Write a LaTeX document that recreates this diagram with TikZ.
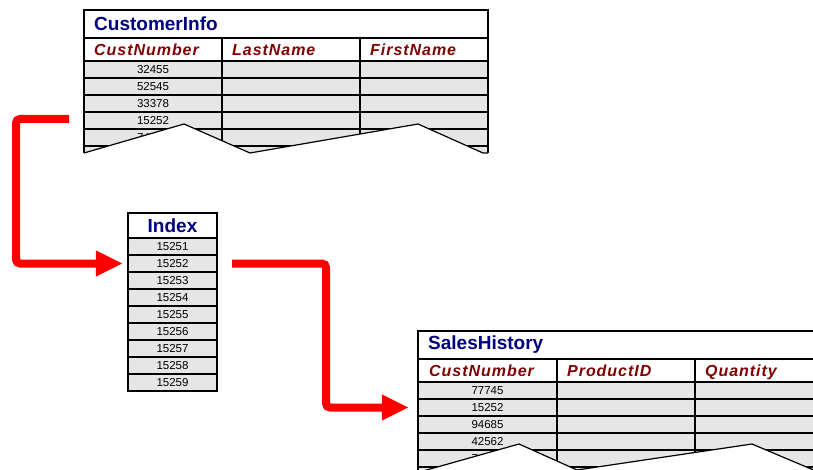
\documentclass[tikz,border=0pt]{standalone}
\usepackage{fontspec}
\setmainfont{Liberation Sans}
\usetikzlibrary{arrows.meta}

\definecolor{titleblue}{RGB}{0,0,128}
\definecolor{headred}{RGB}{128,0,0}
\definecolor{cellgray}{RGB}{230,230,230}
\definecolor{linkred}{RGB}{255,0,0}

\begin{document}
\begin{tikzpicture}[x=1pt,y=-1pt,
  tabletitle/.style={font=\fontsize{19}{19}\selectfont\bfseries, text=titleblue, anchor=west, inner sep=0pt},
  colhead/.style={font=\fontsize{16}{16}\selectfont\bfseries\itshape\addfontfeature{LetterSpace=6}, text=headred, anchor=base west, inner sep=0pt},
  cellnum/.style={font=\fontsize{11.5}{12}\selectfont, inner sep=0pt, minimum height=17pt},
  gridline/.style={line width=1.2pt, black},
  frame/.style={line width=1.4pt, black},
  cutedge/.style={line width=1.2pt, black, line join=miter},
  linkarrow/.style={line width=8pt, linkred, rounded corners=4pt,
    -{Triangle[length=27pt,width=24pt]}}
]
\clip (0,0) rectangle (813,470);
\useasboundingbox (0,0) rectangle (813,470);

% ---------------- CustomerInfo table ----------------
\fill[white] (84,10) rectangle (488,61);
\fill[cellgray] (84,61) rectangle (488,153);
\draw[gridline] (84,38) -- (488,38);
\foreach \y in {61,78,95,112,129,146}
  \draw[gridline] (84,\y) -- (488,\y);
\foreach \x in {222,360}
  \draw[gridline] (\x,38) -- (\x,153);
\draw[frame] (84,153) -- (84,10) -- (488,10) -- (488,153);
\node[tabletitle] (ci-title) at (94,24) {CustomerInfo};
\node[colhead] (ci-h1) at (94,56) {CustNumber};
\node[colhead] (ci-h2) at (232,56) {LastName};
\node[colhead] (ci-h3) at (370,56) {FirstName};
\node[cellnum] (ci-r1) at (153,69.5) {32455};
\node[cellnum] (ci-r2) at (153,86.5) {52545};
\node[cellnum] (ci-r3) at (153,103.5) {33378};
\node[cellnum] (ci-r4) at (153,120.5) {15252};
\node[cellnum] (ci-r5) at (153,137.5) {74125};
% torn lower edge
\fill[white] (84,153) -- (184,124) -- (250,153) -- (418,124) -- (483,153)
  -- (490,153) -- (490,165) -- (82,165) -- cycle;
\draw[cutedge] (84,153) -- (184,124) -- (250,153) -- (418,124) -- (483,153) -- (488,153);

% ---------------- Index table ----------------
\fill[white] (128,213) rectangle (217,238);
\fill[cellgray] (128,238) rectangle (217,391);
\foreach \k in {1,...,8}
  \draw[gridline] (128,238+17*\k) -- (217,238+17*\k);
\draw[gridline] (128,238) -- (217,238);
\draw[frame] (128,213) rectangle (217,391);
\node[tabletitle, anchor=center] (ix-title) at (172.5,225.5) {Index};
\foreach \n [count=\k] in {15251,15252,15253,15254,15255,15256,15257,15258,15259}
  \node[cellnum, minimum width=89pt] (ix-\k) at (172.5,229.5+17*\k) {\n};

% ---------------- SalesHistory table ----------------
\fill[white] (418,331) rectangle (840,382);
\fill[cellgray] (418,382) rectangle (840,480);
\draw[gridline] (418,359) -- (840,359);
\foreach \y in {382,399,416,433,450,467}
  \draw[gridline] (418,\y) -- (840,\y);
\foreach \x in {557,695}
  \draw[gridline] (\x,359) -- (\x,480);
\draw[frame] (418,480) -- (418,331) -- (840,331);
\node[tabletitle] (sh-title) at (428,344.5) {SalesHistory};
\node[colhead] (sh-h1) at (429,376.5) {CustNumber};
\node[colhead] (sh-h2) at (567,376.5) {ProductID};
\node[colhead] (sh-h3) at (705,376.5) {Quantity};
\node[cellnum, minimum width=139pt] (sh-r1) at (487.5,390.5) {77745};
\node[cellnum, minimum width=139pt] (sh-r2) at (487.5,407.5) {15252};
\node[cellnum, minimum width=139pt] (sh-r3) at (487.5,424.5) {94685};
\node[cellnum, minimum width=139pt] (sh-r4) at (487.5,441.5) {42562};
\node[cellnum, minimum width=139pt] (sh-r5) at (487.5,458.5) {74125};
% torn lower edge
\fill[white] (416,473) -- (519,444) -- (577,470) -- (752,444) -- (830,477)
  -- (840,490) -- (416,490) -- cycle;
\draw[cutedge] (416,473) -- (519,444) -- (577,470) -- (752,444) -- (830,477);

% ---------------- lookup arrows ----------------
\coordinate (a1-start) at (69,119);
\coordinate (a1-elbow) at (16,263.5);
\coordinate (a2-elbow) at (326,407.5);
\draw[linkarrow] (a1-start) -| (a1-elbow) -- ([xshift=-5pt]ix-2.west);
\draw[linkarrow] ([xshift=15pt]ix-2.east) -| (a2-elbow) -- ([xshift=-9pt]sh-r2.west);
\end{tikzpicture}
\end{document}
